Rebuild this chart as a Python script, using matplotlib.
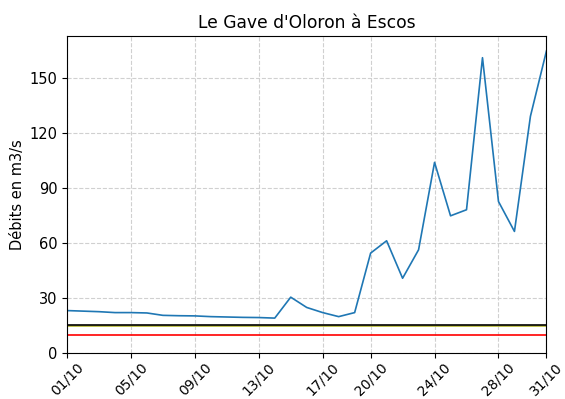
import numpy as np
import pandas as pd
import matplotlib
matplotlib.use("Agg")
import matplotlib.pyplot as plt
import matplotlib.dates as mdates

# débits journaliers d'octobre (m3/s)
jours = pd.date_range("2023-10-01", "2023-10-31", freq="D")
debits = [23.1, 22.8, 22.5, 22.0, 22.0, 21.8, 20.5, 20.3, 20.2, 19.8,
          19.6, 19.4, 19.3, 19.0, 30.4, 24.8, 22.0, 19.8, 22.0, 54.4,
          61.1, 40.7, 56.2, 103.8, 74.7, 78.0, 160.8, 82.5, 66.2, 128.9,
          164.4]

# seuils
seuil_noir = 15.0
seuil_vert = 14.5
seuil_rouge = 10.0

ticks_jours = ["01/10", "05/10", "09/10", "13/10", "17/10", "20/10", "24/10", "28/10", "31/10"]

fig = plt.figure(figsize=(5.65, 3.99), dpi=100)
ax = fig.add_axes([0.1186, 0.1153, 0.8485, 0.7945])

ax.plot(jours, debits, color="#1f77b4", lw=1.2)
ax.axhline(seuil_vert, color="#b5b832", lw=1.2)
ax.axhline(seuil_noir, color="black", lw=1.2)
ax.axhline(seuil_rouge, color="red", lw=1.2)

ax.set_xlim(jours[0], jours[-1])
ax.set_ylim(0, max(debits) * 1.05)
ax.set_yticks([0, 30, 60, 90, 120, 150])

tick_dates = [pd.Timestamp("2023-" + t[3:] + "-" + t[:2]) for t in ticks_jours]
ax.set_xticks(tick_dates)
ax.xaxis.set_major_formatter(mdates.DateFormatter("%d/%m"))
plt.setp(ax.get_xticklabels(), rotation=45)

ax.tick_params(axis="y", labelsize=10.5)
ax.tick_params(axis="x", labelsize=9.9, pad=1.5)
ax.grid(True, linestyle="--", color="#d0d0d0", lw=0.8)
ax.set_ylabel("Débits en m3/s", fontsize=10.5, labelpad=3)
ax.set_title("Le Gave d'Oloron à Escos", fontsize=12.3)

fig.savefig("out.png", dpi=100)
